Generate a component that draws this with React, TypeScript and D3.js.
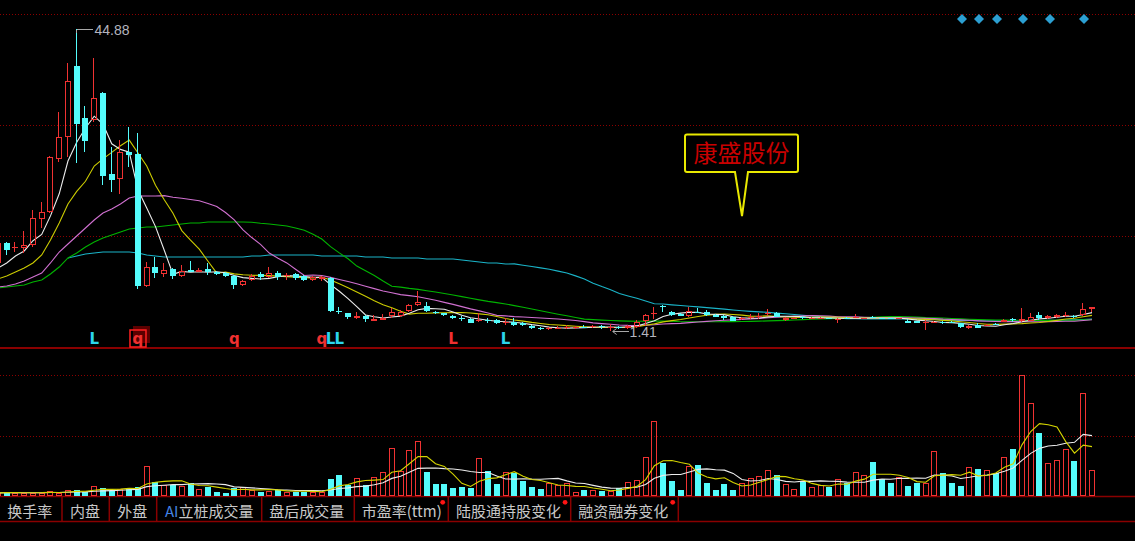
import React from 'react';
import * as d3 from 'd3';

// ---- price data (one entry per period) ----
const opens = [11.20,14.08,13.29,13.36,13.79,17.53,18.54,26.17,29.33,39.55,32.07,31.78,35.67,24.01,23.29,27.18,26.89,7.89,10.62,9.61,10.33,9.33,10.12,9.97,10.33,9.90,9.76,9.33,8.03,8.75,9.61,9.18,9.76,9.33,9.61,9.33,8.75,8.89,9.04,4.36,4.00,3.35,3.57,2.92,2.99,3.57,3.57,4.29,5.15,5.01,4.14,3.93,3.57,3.28,3.14,2.92,2.99,2.99,2.49,2.71,2.56,2.13,1.77,1.70,1.77,1.84,1.84,1.99,1.99,2.13,1.91,1.99,1.84,1.99,2.85,3.93,5.01,4.14,3.86,3.57,4.14,4.14,3.71,3.57,3.43,3.14,3.28,3.50,3.93,4.00,2.99,3.21,3.43,3.21,3.21,3.28,2.99,3.28,3.28,3.21,3.43,3.21,3.28,3.21,2.85,2.78,2.56,2.63,2.71,2.71,2.56,1.91,2.27,2.20,2.42,2.71,3.14,2.85,2.85,3.71,3.35,3.43,3.57,3.57,3.71,4.58];
const highs = [14.51,14.22,14.22,15.80,18.83,19.98,26.60,32.93,39.99,44.88,33.80,40.71,35.81,27.89,28.90,30.77,29.91,11.34,12.06,11.20,10.48,10.91,11.49,10.48,11.20,10.05,9.90,9.47,8.75,9.61,9.90,10.62,10.05,9.76,9.76,9.47,9.33,9.33,9.18,4.86,4.00,4.14,3.71,3.71,3.86,4.72,4.43,5.30,7.17,5.58,4.29,4.00,3.71,3.57,3.28,4.00,3.28,3.14,3.28,3.28,2.71,2.27,1.99,1.99,2.13,2.27,2.13,2.27,2.27,2.27,2.42,2.13,2.27,2.99,3.86,4.86,5.15,4.29,3.93,4.86,4.72,4.43,3.86,3.71,3.57,3.43,3.86,4.00,4.58,4.14,3.43,3.43,3.57,3.43,3.43,3.35,3.28,3.43,3.86,3.35,3.64,3.35,3.35,3.35,3.14,2.85,2.99,2.85,2.78,2.78,2.63,2.27,2.56,2.42,2.56,3.07,3.28,4.72,4.00,4.14,3.71,3.86,4.14,3.71,5.44,4.86];
const lows = [10.91,12.35,12.78,12.64,13.50,16.24,18.39,25.74,26.46,25.59,27.18,31.49,22.43,21.42,21.13,25.02,7.46,7.74,9.04,9.18,8.89,9.18,9.90,9.90,9.47,9.47,9.18,7.46,7.89,8.61,8.75,9.04,8.75,8.75,8.75,8.61,8.61,8.61,4.14,3.86,3.14,3.14,2.71,2.85,2.99,3.28,3.43,4.14,5.01,4.14,3.86,3.57,3.14,2.85,2.49,2.71,2.56,2.42,2.27,2.20,2.13,1.70,1.55,1.55,1.70,1.70,1.70,1.84,1.84,1.70,1.41,1.70,1.70,1.84,2.13,3.14,4.14,3.57,3.57,3.43,4.00,3.57,3.43,2.99,2.85,2.99,3.14,3.14,3.57,3.43,2.85,3.14,3.14,3.14,3.07,3.14,2.56,3.14,3.28,3.14,3.28,3.07,3.14,3.14,2.56,2.49,1.55,2.56,2.42,2.49,1.91,1.70,1.84,2.13,2.27,2.71,2.71,2.71,2.85,2.99,3.14,3.28,3.43,3.28,3.57,4.14];
const closes = [14.08,13.07,13.43,13.79,17.68,18.54,26.46,29.33,37.40,31.21,28.76,34.95,23.72,23.15,27.18,26.74,7.89,10.62,9.76,10.19,9.33,10.05,9.97,10.12,9.90,9.61,9.33,8.03,8.61,9.33,9.18,9.76,9.18,9.47,9.04,8.75,9.18,9.18,4.29,4.22,3.43,3.50,3.14,3.07,3.28,4.14,4.14,5.15,5.58,4.29,3.93,3.71,3.28,3.14,2.56,2.99,2.85,2.56,2.71,2.27,2.27,1.84,1.70,1.77,1.84,1.99,1.99,1.91,2.06,1.99,1.99,1.84,2.13,2.71,3.71,4.07,4.86,3.71,3.57,4.29,4.00,3.71,3.43,3.28,2.85,3.28,3.43,3.57,4.00,3.43,3.28,3.28,3.35,3.28,3.28,3.21,3.14,3.21,3.43,3.28,3.35,3.17,3.21,3.28,2.63,2.56,2.71,2.71,2.56,2.56,1.99,2.06,1.84,2.27,2.35,2.99,2.99,3.07,3.43,3.28,3.50,3.71,3.71,3.43,4.58,4.86];
const volumes = [3,3.7,3.3,3.3,3.3,3.3,5,2.7,6,6,4.3,10,7.7,5.3,7,8.3,9.3,30,14.3,11,11,10.3,13.3,7,9.3,4.3,3.3,7.7,9.3,6,4.3,5,6,4.3,4.3,4.3,4.3,4.3,16.7,21,11,17.7,11,18.7,23.7,47.7,25,46,54.7,23.7,11.7,11.7,7.7,8.7,7.7,37.7,25,11.7,24.3,22.7,15,8.7,6.7,13.3,11,12.7,4.3,6,6,5,5,7.7,14.3,16,38.7,74.7,32.7,15,6,30,31,12.7,6,11.7,6,13.3,17.7,20,26,21,12,7,14.3,8.7,11,9.3,17,12.7,24.3,21,33.7,16.7,12.7,19.3,10,13.3,13.3,45,22.7,12.7,10,28.7,26.7,26,23.3,38.7,46.7,121,92.7,62.7,33.3,36,47.3,35,102.7,26];

const ma5Lead = [10.48, 11.20, 12.21, 12.93];
const ma10Lead = [8.90, 9.33, 9.90, 10.48, 11.20, 12.35, 14.51, 16.96, 19.69];
const ma20Lead = [7.74, 7.89, 8.17, 8.61, 9.18, 9.76, 11.20, 12.78, 13.93, 15.08, 16.24, 17.39, 18.39, 18.97, 19.69, 20.55, 20.84, 20.84, 20.84];
const ma30Lead = [7.60, 7.74, 7.89, 8.03, 8.46, 8.75, 9.61, 10.62, 11.92, 12.64, 13.50, 14.22, 14.80, 15.23, 15.66, 16.09, 16.24, 16.38, 16.38, 16.52, 16.67, 16.81, 16.96, 16.96, 17.10, 17.10, 17.10, 17.10, 17.10];
const ma60LeadStart = 8;
const ma60Lead = [11.92, 12.21, 12.49, 12.64, 12.78, 12.78, 12.78, 12.78, 12.64, 12.35, 12.21, 12.06,
  12.06, 12.06, 12.06, 12.06, 12.06, 12.06, 12.06, 12.06, 12.06,
  12.21, 12.21,
  12.35, 12.35, 12.35, 12.35, 12.35, 12.35,
  12.21, 12.21, 12.21, 12.21, 12.21,
  12.06, 12.06, 12.06,
  11.92, 11.92, 11.92, 11.92,
  11.77, 11.77, 11.77, 11.77,
  11.63, 11.49, 11.34, 11.20, 11.20, 11.05];

// signal markers
const markerIdx = [11, 16, 27, 37, 38, 39, 52, 58];
const markerText = ['L', 'q', 'q', 'q', 'L', 'L', 'L', 'L'];
const markerUp = [true, false, false, false, true, true, false, true];

const priceGrid = [15.08, 31.06, 47.04];
const volGrid = [60, 121];

const tabs = ['换手率', '内盘', '外盘', 'AI立桩成交量', '盘后成交量', '市盈率(ttm)', '陆股通持股变化', '融资融券变化'];
const tabDot = [false, false, false, false, false, true, true, true];
const stockName = '康盛股份';

const RED = '#f03232';
const CYAN = '#54fcfc';
const GRID = '#8c0000';
const LINE_RED = '#8a0000';

const xS = d3.scaleLinear().domain([0, closes.length - 1]).range([-2.05, 1092]);
const yS = d3.scaleLinear().domain([1.41, 44.88]).range([331, 29]);
const vS = d3.scaleLinear().domain([0, 121]).range([496, 375]);

function maWithLead(src: number[], n: number, lead: number[], leadStart: number): (number | null)[] {
  return src.map((_, i) => {
    if (i >= n - 1) return d3.mean(src.slice(i - n + 1, i + 1)) as number;
    const j = i - leadStart;
    if (j >= 0 && j < lead.length) return lead[j];
    return null;
  });
}
function maExpanding(src: number[], n: number): number[] {
  return src.map((_, i) => d3.mean(src.slice(Math.max(0, i - n + 1), i + 1)) as number);
}

export default function App() {
  const priceMAs = [
    { v: maWithLead(closes, 60, ma60Lead, ma60LeadStart), c: '#1ab4c8' },
    { v: maWithLead(closes, 30, ma30Lead, 0), c: '#00b400' },
    { v: maWithLead(closes, 20, ma20Lead, 0), c: '#d070d0' },
    { v: maWithLead(closes, 10, ma10Lead, 0), c: '#cccc00' },
    { v: maWithLead(closes, 5, ma5Lead, 0), c: '#ececec' },
  ];
  const volMAs = [
    { v: maExpanding(volumes, 10), c: '#ececec' },
    { v: maExpanding(volumes, 5), c: '#d4d400' },
  ];
  const pLine = d3.line<number | null>()
    .defined(d => d != null)
    .x((_, i) => xS(i))
    .y(d => yS(d as number));
  const vLine = d3.line<number>()
    .x((_, i) => xS(i))
    .y(d => vS(d));

  const hiIdx = d3.maxIndex(highs);
  const loIdx = d3.minIndex(lows);
  const hiX = Math.round(xS(hiIdx) - 3) + 2.5, hiY = Math.round(yS(highs[hiIdx])) + 0.5;
  const loX = xS(loIdx), loY = Math.round(yS(lows[loIdx])) + 0.5;

  const candles = closes.map((c, i) => {
    const o = opens[i];
    const left = Math.round(xS(i) - 3);
    const wx = left + 2.5;
    const up = c >= o;
    const yt = Math.round(yS(Math.max(o, c)));
    const yb = Math.round(yS(Math.min(o, c)));
    const yh = Math.round(yS(highs[i]));
    const yl = Math.round(yS(lows[i]));
    if (up) {
      const h = yb - yt;
      return (
        <g key={i} stroke={RED} strokeWidth={1} fill="none">
          {yh < yt && <line x1={wx} x2={wx} y1={yh} y2={yt} />}
          {yl > yb && <line x1={wx} x2={wx} y1={yb} y2={yl} />}
          {h >= 2 ? (
            <rect x={left + 0.5} y={yt + 0.5} width={5} height={h - 1} />
          ) : (
            <line x1={left} x2={left + 6} y1={yt + 0.5} y2={yt + 0.5} />
          )}
        </g>
      );
    }
    return (
      <g key={i}>
        <line x1={wx} x2={wx} y1={yh} y2={yl} stroke={CYAN} strokeWidth={1} />
        <rect x={left} y={yt} width={6} height={Math.max(1, yb - yt)} fill={CYAN} />
      </g>
    );
  });

  const volBars = volumes.map((v, i) => {
    const left = Math.round(xS(i) - 3);
    const top = Math.round(vS(v));
    const h = 496 - top;
    const up = closes[i] >= opens[i];
    return up ? (
      <rect key={i} x={left + 0.5} y={top + 0.5} width={5} height={Math.max(0, h - 1)} fill="none" stroke={RED} strokeWidth={1} />
    ) : (
      <rect key={i} x={left} y={top} width={6} height={h} fill={CYAN} />
    );
  });

  const tabTextX = [7.3, 70, 117.3, 165, 269.3, 361.7, 456, 578.3];
  const tabSepX = [62, 109.3, 156.7, 261.7, 354.3, 448.3, 570.7, 678.3];
  const diamondsX = [962, 979, 997, 1023, 1050, 1084];

  return (
    <svg width={1135} height={541} style={{ position: 'absolute', left: 0, top: 0, display: 'block', background: '#000' }}>
      <defs>
        <linearGradient id="aiGrad" x1="0" x2="1" y1="0" y2="0">
          <stop offset="0" stopColor="#3f7fe6" />
          <stop offset="0.55" stopColor="#5a9af0" />
          <stop offset="1" stopColor="#f0a040" />
        </linearGradient>
      </defs>
      <rect x={0} y={0} width={1135} height={541} fill="#000" />

      {/* dotted grids */}
      {priceGrid.map((p, i) => (
        <line key={'pg' + i} x1={0} x2={1135} y1={Math.round(yS(p)) + 0.5} y2={Math.round(yS(p)) + 0.5} stroke={GRID} strokeDasharray="1 2" />
      ))}
      {volGrid.map((v, i) => (
        <line key={'vg' + i} x1={0} x2={1135} y1={Math.round(vS(v)) + 0.5} y2={Math.round(vS(v)) + 0.5} stroke={GRID} strokeDasharray="1 2" />
      ))}

      {/* panel separators */}
      <line x1={0} x2={1135} y1={348} y2={348} stroke={LINE_RED} strokeWidth={2} />
      <line x1={0} x2={1135} y1={496.5} y2={496.5} stroke={LINE_RED} strokeWidth={1.5} />
      <line x1={0} x2={1135} y1={521.5} y2={521.5} stroke={LINE_RED} strokeWidth={1.5} />

      {/* price moving averages */}
      {priceMAs.map((m, k) => (
        <path key={'ma' + k} d={pLine(m.v) || ''} fill="none" stroke={m.c} strokeWidth={1.1} />
      ))}

      {/* candles */}
      <g shapeRendering="crispEdges">{candles}</g>

      {/* high / low labels */}
      <g shapeRendering="crispEdges">
        <line x1={hiX} x2={hiX + 16} y1={hiY} y2={hiY} stroke="#a8a8a8" strokeWidth={1} />
        <line x1={hiX} x2={hiX} y1={hiY} y2={hiY + 3} stroke="#a8a8a8" strokeWidth={1} />
        <line x1={loX + 2} x2={loX + 18} y1={loY} y2={loY} stroke="#a8a8a8" strokeWidth={1} />
      </g>
      <text x={hiX + 18} y={hiY + 5} fill="#b4b4be" fontSize={14} fontFamily="'Liberation Sans', Arial, sans-serif">{highs[hiIdx].toFixed(2)}</text>
      <path d={`M${loX + 2},${loY} l4,-3 M${loX + 2},${loY} l4,3`} stroke="#a8a8a8" strokeWidth={1} fill="none" />
      <text x={loX + 19} y={loY + 5} fill="#b4b4be" fontSize={14} fontFamily="'Liberation Sans', Arial, sans-serif">{lows[loIdx].toFixed(2)}</text>

      {/* signal markers */}
      {markerIdx.map((idx, k) => {
        const x = xS(idx);
        const boxed = k === 1;
        return (
          <g key={'mk' + k}>
            {boxed && <rect x={x - 5} y={326} width={17} height={17} fill="#5c0000" />}
            {boxed && <rect x={x - 8} y={330} width={16} height={17} fill="none" stroke="#ff2020" strokeWidth={1.5} />}
            <text x={x} y={344} textAnchor="middle" fontSize={15} fontWeight="bold"
              fontFamily="'DejaVu Sans', Arial, sans-serif" fill={markerUp[k] ? '#2cd4ec' : '#f03030'}>{markerText[k]}</text>
          </g>
        );
      })}

      {/* stock name callout */}
      <path d="M687,134.5 H796 Q798,134.5 798,136.5 V170 Q798,172 796,172 H748 L742,216 L735,172 H687 Q685,172 685,170 V136.5 Q685,134.5 687,134.5 Z"
        fill="#000" stroke="#e8e800" strokeWidth={2} />
      <text x={741.5} y={162} textAnchor="middle" fontSize={24} fill="#c80000"
        fontFamily="'Noto Sans CJK SC', sans-serif">{stockName}</text>

      {/* diamonds */}
      {diamondsX.map((x, k) => (
        <path key={'dm' + k} d={`M${x},14 L${x + 5},19 L${x},24 L${x - 5},19 Z`} fill="#2c9fd2" />
      ))}

      {/* volume */}
      <g shapeRendering="crispEdges">{volBars}</g>
      {volMAs.map((m, k) => (
        <path key={'vm' + k} d={vLine(m.v) || ''} fill="none" stroke={m.c} strokeWidth={1.1} />
      ))}

      {/* bottom tabs */}
      {tabSepX.map((x, k) => (
        <line key={'ts' + k} x1={x} x2={x} y1={496} y2={522} stroke={LINE_RED} strokeWidth={1.5} />
      ))}
      {tabs.map((t, k) => (
        <text key={'tt' + k} x={tabTextX[k]} y={517} fontSize={15} fill="#c8c8c8"
          fontFamily="'Noto Sans CJK SC', sans-serif">
          {t.startsWith('AI') ? (<><tspan fill="url(#aiGrad)">AI</tspan>{t.slice(2)}</>) : t}
        </text>
      ))}
      {tabDot.map((d, k) => d ? (
        <circle key={'td' + k} cx={tabSepX[k] - 5.6} cy={502.3} r={2.4} fill="#ff1414" />
      ) : null)}
    </svg>
  );
}
